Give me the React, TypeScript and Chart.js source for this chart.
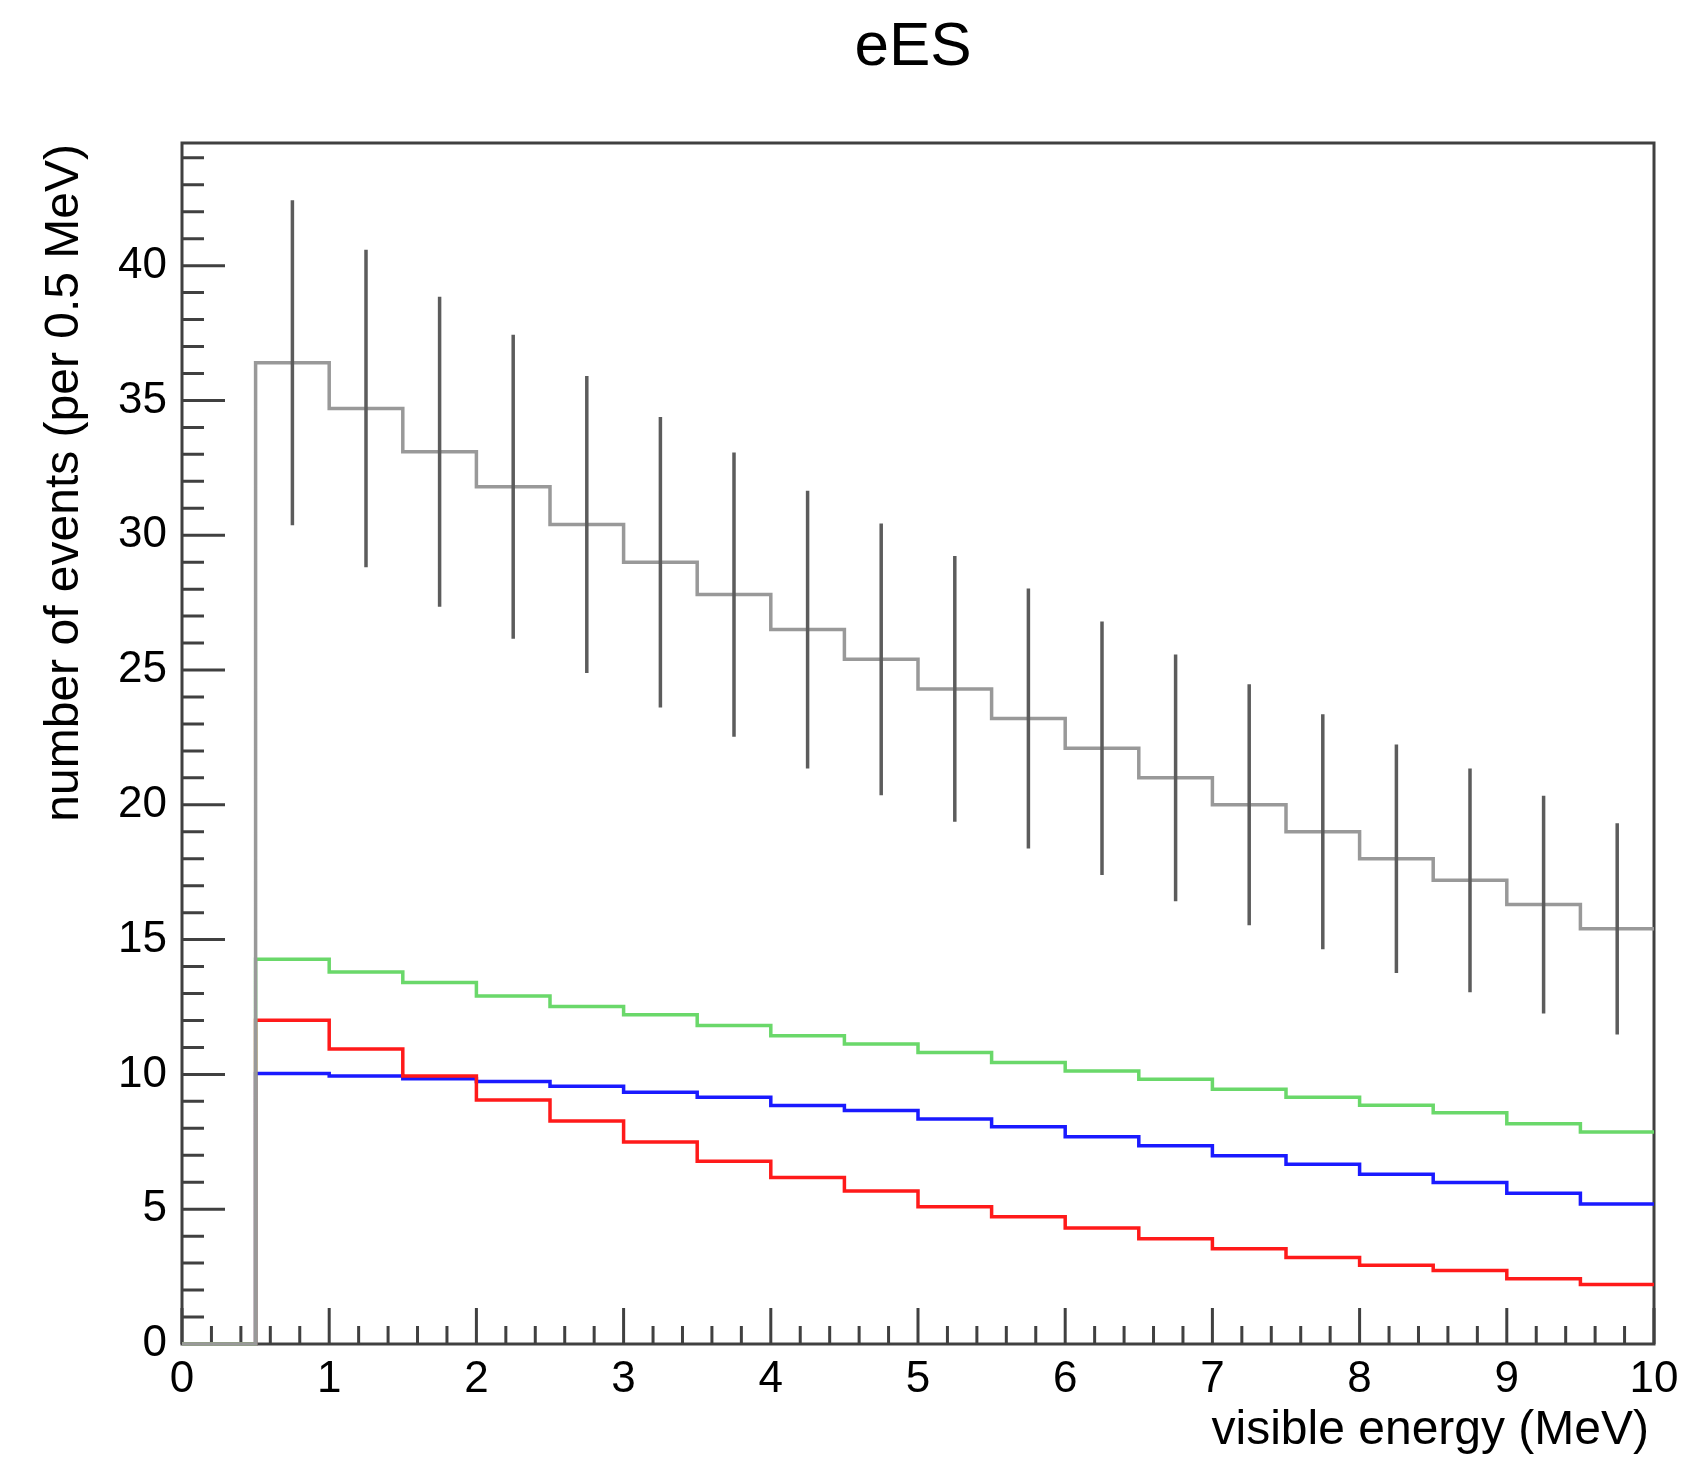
import React, { useEffect, useRef } from 'react';
import { Chart, registerables } from 'chart.js';

Chart.register(...registerables);

// ---- data ----
const binLowEdges = [0.5, 1.0, 1.5, 2.0, 2.5, 3.0, 3.5, 4.0, 4.5, 5.0, 5.5, 6.0, 6.5, 7.0, 7.5, 8.0, 8.5, 9.0, 9.5];
const binCenters = [0.75, 1.25, 1.75, 2.25, 2.75, 3.25, 3.75, 4.25, 4.75, 5.25, 5.75, 6.25, 6.75, 7.25, 7.75, 8.25, 8.75, 9.25, 9.75];
const histXMin = 0;
const histXMax = 10;
const totalEvents = [36.4, 34.7, 33.1, 31.8, 30.4, 29.0, 27.8, 26.5, 25.4, 24.3, 23.2, 22.1, 21.0, 20.0, 19.0, 18.0, 17.2, 16.3, 15.4];
const totalErrors = [6.03, 5.89, 5.75, 5.64, 5.51, 5.39, 5.27, 5.15, 5.04, 4.93, 4.82, 4.70, 4.58, 4.47, 4.36, 4.24, 4.15, 4.04, 3.92];
const greenSeries = [14.27, 13.80, 13.41, 12.91, 12.52, 12.21, 11.81, 11.43, 11.13, 10.81, 10.44, 10.13, 9.82, 9.45, 9.15, 8.86, 8.58, 8.17, 7.86];
const redSeries = [12.01, 10.94, 9.94, 9.05, 8.27, 7.49, 6.78, 6.18, 5.68, 5.09, 4.72, 4.30, 3.90, 3.53, 3.21, 2.92, 2.73, 2.42, 2.21];
const blueSeries = [10.03, 9.94, 9.84, 9.74, 9.56, 9.34, 9.15, 8.85, 8.66, 8.35, 8.06, 7.69, 7.35, 6.98, 6.67, 6.30, 5.99, 5.59, 5.19];

const xTickValues = [0, 1, 2, 3, 4, 5, 6, 7, 8, 9, 10];
const yTickValues = [0, 5, 10, 15, 20, 25, 30, 35, 40];
const xMinorStep = 0.2;
const yMinorStep = 1;
const yMax = 44.55;

const titleText = 'eES';
const xTitle = 'visible energy (MeV)';
const yTitle = 'number of events (per 0.5 MeV)';

const FONT = '"Liberation Sans", Arial, Helvetica, sans-serif';

function histPoints(values: number[]) {
  const pts: { x: number; y: number }[] = [{ x: histXMin, y: 0 }];
  values.forEach((v, i) => pts.push({ x: binLowEdges[i], y: v }));
  pts.push({ x: histXMax, y: values[values.length - 1] });
  return pts;
}

function errorPoints() {
  const pts: { x: number; y: number | null }[] = [];
  binCenters.forEach((c, i) => {
    pts.push({ x: c, y: totalEvents[i] - totalErrors[i] });
    pts.push({ x: c, y: totalEvents[i] + totalErrors[i] });
    pts.push({ x: c, y: null });
  });
  return pts;
}

const rootStyle = {
  id: 'rootStyle',
  beforeDatasetsDraw(chart: any) {
    const { ctx, chartArea: a, scales } = chart;
    const x = scales.x;
    const y = scales.y;
    ctx.save();
    ctx.strokeStyle = '#404040';
    ctx.lineWidth = 3;
    ctx.lineCap = 'butt';
    ctx.strokeRect(a.left, a.top, a.right - a.left, a.bottom - a.top);
    ctx.beginPath();
    for (let k = 0; k * yMinorStep <= yMax; k++) {
      const v = k * yMinorStep;
      const py = y.getPixelForValue(v);
      const len = k % 5 === 0 ? 43 : 22;
      ctx.moveTo(a.left, py);
      ctx.lineTo(a.left + len, py);
    }
    const nx = Math.round((histXMax - histXMin) / xMinorStep);
    for (let k = 0; k <= nx; k++) {
      const v = histXMin + k * xMinorStep;
      const px = x.getPixelForValue(v);
      const len = k % 5 === 0 ? 36 : 18;
      ctx.moveTo(px, a.bottom);
      ctx.lineTo(px, a.bottom - len);
    }
    ctx.stroke();
    ctx.restore();
  },
  afterDraw(chart: any) {
    const { ctx } = chart;
    ctx.save();
    ctx.fillStyle = '#000000';
    ctx.font = `62px ${FONT}`;
    ctx.textAlign = 'center';
    ctx.textBaseline = 'alphabetic';
    ctx.fillText(titleText, 913, 65);

    ctx.font = `48px ${FONT}`;
    ctx.textAlign = 'right';
    ctx.fillText(xTitle, 1649, 1444);

    ctx.translate(78, 144);
    ctx.rotate(-Math.PI / 2);
    ctx.textAlign = 'right';
    ctx.fillText(yTitle, 0, 0);
    ctx.restore();
  },
};

export default function App() {
  const ref = useRef<HTMLCanvasElement | null>(null);

  useEffect(() => {
    if (!ref.current) return;
    const line = (data: any, color: string, order: number) => ({
      data,
      borderColor: color,
      backgroundColor: color,
      borderWidth: 3.5,
      showLine: true,
      stepped: true,
      pointRadius: 0,
      fill: false,
      clip: false,
      order,
      borderJoinStyle: 'miter',
      borderCapStyle: 'butt',
    });
    const chart = new Chart(ref.current, {
      type: 'scatter',
      data: {
        datasets: [
          {
            data: errorPoints(),
            borderColor: '#5c5c5c',
            borderWidth: 3.5,
            showLine: true,
            spanGaps: false,
            pointRadius: 0,
            clip: false,
            order: 0,
            borderCapStyle: 'butt',
          } as any,
          line(histPoints(totalEvents), '#999999', 1) as any,
          line(histPoints(greenSeries), '#6ad86a', 2) as any,
          line(histPoints(redSeries), '#ff1a1a', 3) as any,
          line(histPoints(blueSeries), '#1a1aff', 4) as any,
        ],
      },
      options: {
        animation: false,
        responsive: false,
        devicePixelRatio: 1,
        layout: { padding: { left: 0, top: 143, right: 38, bottom: 0 } },
        plugins: { legend: { display: false }, tooltip: { enabled: false }, title: { display: false } },
        events: [],
        scales: {
          x: {
            type: 'linear',
            min: histXMin,
            max: histXMax,
            grid: { display: false, drawTicks: false },
            border: { display: false },
            ticks: {
              padding: 9,
              color: '#000000',
              font: { family: FONT, size: 44 },
              maxRotation: 0,
              autoSkip: false,
            },
            afterBuildTicks: (s: any) => {
              s.ticks = xTickValues.map((v) => ({ value: v }));
            },
            afterFit: (s: any) => {
              s.height = 114;
            },
          },
          y: {
            type: 'linear',
            min: 0,
            max: yMax,
            grid: { display: false, drawTicks: false },
            border: { display: false },
            ticks: {
              padding: 15,
              color: '#000000',
              font: { family: FONT, size: 44 },
              autoSkip: false,
            },
            afterBuildTicks: (s: any) => {
              s.ticks = yTickValues.map((v) => ({ value: v }));
            },
            afterFit: (s: any) => {
              s.width = 182;
            },
          },
        },
      } as any,
      plugins: [rootStyle],
    });
    return () => chart.destroy();
  }, []);

  return (
    <div style={{ position: 'fixed', left: 0, top: 0, width: 1692, height: 1458, background: '#ffffff' }}>
      <canvas ref={ref} width={1692} height={1458} style={{ display: 'block', width: 1692, height: 1458 }} />
    </div>
  );
}
